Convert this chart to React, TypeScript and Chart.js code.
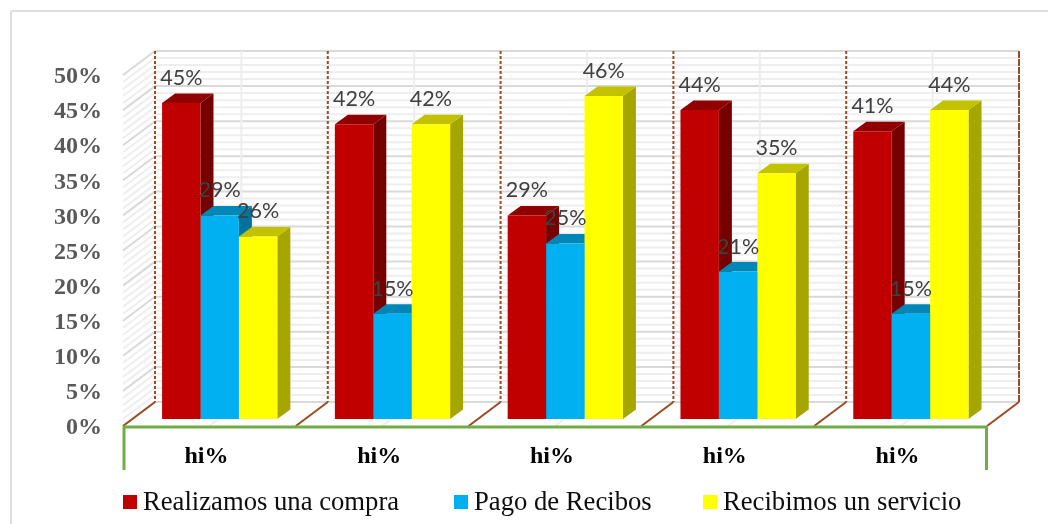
import React, { useEffect, useRef } from "react";
import { Chart, registerables } from "chart.js";

Chart.register(...registerables);

const categories = ["hi%", "hi%", "hi%", "hi%", "hi%"];
const realizamosCompra = [45, 42, 29, 44, 41];
const pagoRecibos = [29, 15, 25, 21, 15];
const recibimosServicio = [26, 42, 46, 35, 44];

const seriesLabels = ["Realizamos una compra", "Pago de Recibos", "Recibimos un servicio"];
const frontColors = ["#C00000", "#00B0F0", "#FFFF00"];
const topColors = ["#900000", "#0087B8", "#C2C200"];
const sideColors = ["#740000", "#00739D", "#A6A600"];
const legendBoxX = [123, 454, 703];

// Tick labels sit slightly below the drawn front edge of the box
const TICK_DROP = 2;
// Perspective offsets of the simulated 3D box, in pixels
const WALL_DX = 32;
const WALL_DY = -24;
const BAR_DX = 10.3;
const BAR_DY = -7 - TICK_DROP;
const BAR_DEPTH_X = 13;
const BAR_DEPTH_Y = -9.5;

const line = (ctx: CanvasRenderingContext2D, x1: number, y1: number, x2: number, y2: number) => {
  ctx.beginPath();
  ctx.moveTo(x1, y1);
  ctx.lineTo(x2, y2);
  ctx.stroke();
};

const poly = (ctx: CanvasRenderingContext2D, pts: number[][], color: string) => {
  ctx.fillStyle = color;
  ctx.beginPath();
  pts.forEach(([x, y], i) => (i ? ctx.lineTo(x, y) : ctx.moveTo(x, y)));
  ctx.closePath();
  ctx.fill();
};

const box3d = {
  id: "box3d",
  beforeDatasetsDraw(chart: any) {
    const { ctx, chartArea, scales } = chart;
    const { left, right } = chartArea;
    const yScale = scales.y;
    const band = (right - left) / categories.length;
    const front = (v: number) => yScale.getPixelForValue(v) - TICK_DROP;
    const floor = front(0);
    const wallTop = front(50) + WALL_DY;

    ctx.save();
    // Outer frame, open on the right and at the bottom
    ctx.strokeStyle = "#DEDEDE";
    ctx.lineWidth = 2;
    line(ctx, 11, 524, 11, 11);
    line(ctx, 11, 11, 1048, 11);

    // Back wall and side wall: faint line each 1 %, stronger each 5 %
    for (let pass = 0; pass < 2; pass++) {
      for (let v = 0; v <= 50; v++) {
        const major = v % 5 === 0;
        if (major !== (pass === 1)) continue;
        const y = front(v);
        ctx.strokeStyle = major ? "#D9D9D9" : "#EEEEEE";
        ctx.lineWidth = 2;
        line(ctx, left + WALL_DX, y + WALL_DY, right + WALL_DX, y + WALL_DY);
        line(ctx, left, y, left + WALL_DX, y + WALL_DY);
      }
    }

    // Faint centre line of each category on the wall and floor
    ctx.strokeStyle = "#EDEDED";
    ctx.lineWidth = 2;
    for (let i = 0; i < categories.length; i++) {
      const x = left + band * (i + 0.5);
      line(ctx, x + WALL_DX, wallTop, x + WALL_DX, floor + WALL_DY);
      line(ctx, x, floor, x + WALL_DX, floor + WALL_DY);
    }

    // Brown category separators: dashed on the wall, solid across the floor
    ctx.strokeStyle = "#9C4A1E";
    ctx.lineWidth = 2;
    for (let i = 0; i <= categories.length; i++) {
      const x = left + band * i;
      ctx.setLineDash(i === categories.length ? [7, 1] : [3, 2]);
      line(ctx, x + WALL_DX, wallTop, x + WALL_DX, floor + WALL_DY);
      ctx.setLineDash([]);
      line(ctx, x, floor, x + WALL_DX, floor + WALL_DY);
    }

    // Green base line with its two end ticks
    ctx.strokeStyle = "#70AD47";
    ctx.lineWidth = 3;
    ctx.beginPath();
    ctx.moveTo(left + 1, 470);
    ctx.lineTo(left + 1, floor + 1);
    ctx.lineTo(right - 0.5, floor + 1);
    ctx.lineTo(right - 0.5, 470);
    ctx.stroke();

    // Bars move back into the box; tops and sides go under every front face
    ctx.translate(BAR_DX, BAR_DY);
    chart.data.datasets.forEach((_: unknown, d: number) => {
      chart.getDatasetMeta(d).data.forEach((bar: any) => {
        const l = bar.x - bar.width / 2;
        const r = bar.x + bar.width / 2;
        const t = bar.y;
        const b = bar.base;
        poly(ctx, [[r, t], [r + BAR_DEPTH_X, t + BAR_DEPTH_Y], [r + BAR_DEPTH_X, b + BAR_DEPTH_Y], [r, b]], sideColors[d]);
        poly(ctx, [[l, t], [l + BAR_DEPTH_X, t + BAR_DEPTH_Y], [r + BAR_DEPTH_X, t + BAR_DEPTH_Y], [r, t]], topColors[d]);
      });
    });
  },
  afterDatasetsDraw(chart: any) {
    const { ctx } = chart;
    ctx.restore();

    // Value labels above each bar
    ctx.save();
    ctx.font = "21.5px Lato";
    ctx.fillStyle = "#404040";
    ctx.textAlign = "center";
    ctx.textBaseline = "middle";
    chart.data.datasets.forEach((ds: any, d: number) => {
      chart.getDatasetMeta(d).data.forEach((bar: any, i: number) => {
        ctx.fillText(`${ds.data[i]}%`, bar.x + BAR_DX, bar.y + BAR_DY - 25);
      });
    });

    // Legend row
    ctx.textAlign = "left";
    ctx.textBaseline = "alphabetic";
    ctx.font = "26.67px 'Liberation Serif'";
    seriesLabels.forEach((label, i) => {
      ctx.fillStyle = frontColors[i];
      ctx.fillRect(legendBoxX[i], 495, 14, 14);
      ctx.fillStyle = "#0D0D0D";
      ctx.fillText(label, legendBoxX[i] + 20, 510);
    });
    ctx.restore();
  },
};

export default function App() {
  const ref = useRef<HTMLCanvasElement>(null);

  useEffect(() => {
    const chart = new Chart(ref.current as HTMLCanvasElement, {
      type: "bar",
      data: {
        labels: categories,
        datasets: [realizamosCompra, pagoRecibos, recibimosServicio].map((data, i) => ({
          label: seriesLabels[i],
          data,
          backgroundColor: frontColors[i],
          borderWidth: 0,
          categoryPercentage: 0.667,
          barPercentage: 1,
          clip: false as any,
        })),
      },
      options: {
        responsive: false,
        animation: false,
        layout: { padding: { left: 0, right: 61, top: 75 + TICK_DROP, bottom: 0 } },
        plugins: { legend: { display: false }, tooltip: { enabled: false } },
        scales: {
          x: {
            grid: { display: false },
            border: { display: false },
            afterFit: (s: any) => {
              s.height = 98 - TICK_DROP;
            },
            ticks: {
              padding: 6,
              labelOffset: -3,
              maxRotation: 0,
              color: "#000000",
              font: { family: "'Liberation Serif'", size: 24, weight: "bold" },
            },
          },
          y: {
            min: 0,
            max: 50,
            grid: { display: false, drawTicks: false },
            border: { display: false },
            afterFit: (s: any) => {
              s.width = 123;
            },
            ticks: {
              stepSize: 5,
              padding: 21,
              color: "#595959",
              font: { family: "'Liberation Serif'", size: 24, weight: "bold" },
              callback: (v: any) => `${v}%`,
            },
          },
        },
      },
      plugins: [box3d],
    } as any);
    return () => chart.destroy();
  }, []);

  return (
    <div style={{ position: "absolute", left: 0, top: 0, width: 1048, height: 524, background: "#fff" }}>
      <canvas ref={ref} width={1048} height={524} style={{ display: "block" }} />
    </div>
  );
}
